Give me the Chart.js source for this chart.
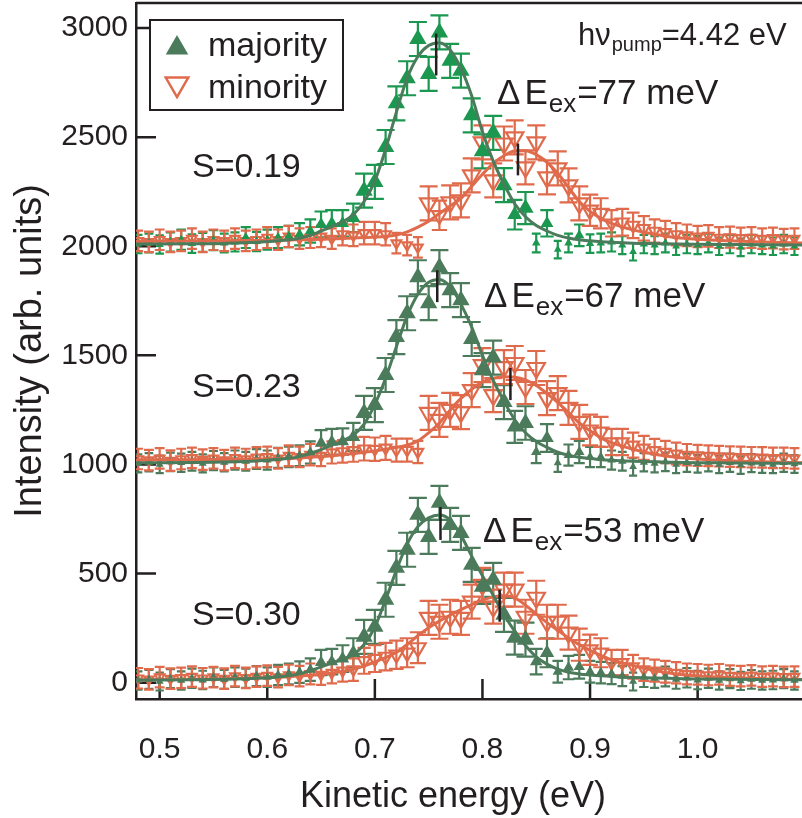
<!DOCTYPE html>
<html>
<head>
<meta charset="utf-8">
<script src="https://cdn.jsdelivr.net/npm/chart.js@4.4.0/dist/chart.umd.min.js"></script>
<style>
  html, body { margin: 0; padding: 0; background: #fff; }
  #wrap { width: 802px; height: 818px; }
</style>
</head>
<body>
<div id="wrap"><canvas id="chart"></canvas></div>
<script>
// kinetic energy of the data points (eV)
const energy = [
  0.48, 0.49, 0.50, 0.51, 0.52, 0.53, 0.54, 0.55, 0.56, 0.57,
  0.58, 0.59, 0.60, 0.61, 0.62, 0.63, 0.64, 0.65, 0.66, 0.67,
  0.68, 0.69, 0.70, 0.71, 0.72, 0.73, 0.74, 0.75, 0.76, 0.77,
  0.78, 0.79, 0.80, 0.81, 0.82, 0.83, 0.84, 0.85, 0.86, 0.87,
  0.88, 0.89, 0.90, 0.91, 0.92, 0.93, 0.94, 0.95, 0.96, 0.97,
  0.98, 0.99, 1.00, 1.01, 1.02, 1.03, 1.04, 1.05, 1.06, 1.07,
  1.08, 1.09
];

// S=0.19 (shown shifted by +2000)
const majTop = [
  10, 15, 8, 20, 30, 12, 18, 28, 15, 20,
  40, 22, 30, 40, 45, 55, 70, 100, 105, 105,
  130, 255, 295, 455, 655, 770, 950, 790, 980, 850,
  805, 600, 435, 520, 280, 145, 175, 15, 105, -15,
  15, 50, 12, 15, 20, 5, -25, 10, 5, 15,
  0, 10, 5, 15, 0, 10, -5, 10, 5, 0,
  10, 0
];
const minTop = [
  25, 20, 30, 20, 25, 35, 20, 30, 25, 35,
  25, 30, 40, 30, 45, 35, 40, 45, 35, 55,
  50, 60, 60, 55, 14, 5, -5, 197, 142, 201,
  210, 325, 476, 302, 471, 499, 362, 476, 316, 357,
  279, 197, 165, 151, 105, 110, 96, 82, 70, 64,
  55, 50, 45, 48, 40, 42, 38, 40, 35, 38,
  33, 35
];

// S=0.23 (shown shifted by +1000)
const majMid = [
  5, 10, 0, 12, 8, 15, 5, 18, 10, 20,
  15, 25, 20, 30, 35, 40, 55, 98, 103, 105,
  126, 236, 272, 410, 584, 693, 858, 739, 904, 799,
  753, 575, 432, 490, 286, 172, 190, 57, 121, 7,
  43, 57, 34, 34, 20, 15, -11, 10, 5, 12,
  0, 8, 3, 10, 0, 8, -3, 6, 2, 0,
  8, 2
];
const minMid = [
  25, 20, 28, 18, 25, 30, 22, 28, 20, 30,
  25, 32, 35, 28, 40, 35, 45, 40, 55, 60,
  65, 72, 70, 76, 66, 66, 57, 236, 204, 250,
  240, 341, 455, 318, 446, 465, 355, 442, 304, 327,
  259, 195, 158, 149, 103, 103, 89, 76, 65, 57,
  50, 45, 42, 40, 38, 36, 35, 33, 32, 30,
  30, 28
];

// S=0.30
const majLow = [
  10, 15, 5, 18, 10, 20, 12, 25, 15, 25,
  20, 30, 25, 35, 40, 48, 60, 92, 96, 110,
  137, 210, 256, 380, 526, 609, 769, 668, 824, 723,
  686, 540, 439, 471, 311, 206, 197, 96, 137, 50,
  69, 73, 50, 46, 41, 30, 5, 25, 20, 28,
  15, 22, 12, 20, 10, 18, 8, 15, 10, 12,
  18, 10
];
const minLow = [
  20, 15, 25, 18, 22, 28, 20, 25, 18, 30,
  22, 28, 32, 25, 35, 30, 40, 37, 45, 55,
  60, 100, 110, 119, 128, 137, 160, 297, 279, 302,
  297, 371, 448, 348, 426, 426, 302, 389, 279, 279,
  229, 174, 151, 137, 92, 92, 73, 60, 55, 50,
  45, 40, 38, 35, 38, 32, 30, 33, 28, 30,
  26, 28
];

// fitted curves
const fitEnergy = [
  0.47, 0.50, 0.53, 0.56, 0.59,
  0.62, 0.63, 0.64, 0.65, 0.66, 0.67, 0.68, 0.69, 0.70, 0.71,
  0.72, 0.73, 0.74, 0.75, 0.76, 0.77, 0.78, 0.79, 0.80, 0.81,
  0.82, 0.83, 0.84, 0.85, 0.86, 0.87, 0.88, 0.89, 0.90, 0.91,
  0.92, 0.94, 0.96, 0.98, 1.00, 1.03, 1.06, 1.10
];
const fitMajTop = [
  10, 10, 11, 13, 18,
  30, 37, 50, 70, 90, 112, 145, 205, 300, 445,
  615, 770, 870, 920, 933, 900, 815, 690, 525, 390,
  285, 195, 135, 95, 70, 50, 38, 30, 25, 21,
  18, 14, 12, 10, 9, 8, 7, 6
];
const fitMinTop = [
  22, 23, 24, 25, 27,
  29, 30, 31, 32, 34, 36, 38, 40, 42, 45,
  52, 66, 88, 115, 150, 185, 220, 275, 330, 380,
  415, 437, 438, 420, 385, 335, 270, 205, 160, 128,
  105, 75, 55, 40, 32, 25, 20, 15
];
const fitMajMid = [
  8, 8, 9, 11, 16,
  28, 36, 50, 68, 88, 108, 135, 185, 275, 395,
  540, 680, 780, 835, 848, 815, 735, 630, 500, 385,
  290, 205, 145, 105, 78, 56, 42, 33, 27, 22,
  19, 15, 12, 10, 8, 7, 6, 5
];
const fitMinMid = [
  20, 21, 22, 23, 25,
  28, 30, 33, 36, 40, 45, 50, 56, 62, 70,
  78, 88, 108, 145, 190, 250, 303, 345, 378, 395,
  402, 400, 388, 362, 325, 285, 238, 190, 155, 122,
  100, 70, 47, 33, 25, 17, 12, 7
];
const fitMajLow = [
  12, 12, 13, 15, 20,
  32, 40, 55, 72, 90, 108, 128, 175, 255, 380,
  515, 635, 715, 755, 768, 745, 675, 580, 490, 400,
  312, 235, 170, 118, 85, 62, 48, 40, 35, 31,
  28, 24, 21, 19, 17, 15, 14, 13
];
const fitMinLow = [
  12, 14, 16, 18, 21,
  27, 30, 34, 38, 44, 52, 62, 76, 95, 115,
  138, 175, 215, 252, 282, 310, 335, 358, 378, 393,
  398, 388, 355, 315, 275, 240, 205, 174, 148, 125,
  105, 78, 55, 40, 31, 23, 18, 14
];

const offsets = [2000, 1000, 0];
const spinLabels = ['S=0.19', 'S=0.23', 'S=0.30'];
const splitting = ['77', '67', '53'];

// peak position marks (energy, bottom, top)
const markEnergy = [0.757, 0.833, 0.758, 0.826, 0.761, 0.816];
const markBottom = [2783, 2325, 1744, 1295, 654, 279];
const markTop = [2975, 2471, 1890, 1442, 805, 426];

const xTicks = [0.5, 0.6, 0.7, 0.8, 0.9, 1.0];
const yTicks = [0, 500, 1000, 1500, 2000, 2500, 3000];

const FONT = '"Liberation Sans", Arial, Helvetica, sans-serif';
const INK = '#231f20';
const ORANGE = '#df6b4c';
const GREEN = '#4b7b5b';
const GREEN_TOP = '#1b9750';

const majSets = [majTop, majMid, majLow];
const minSets = [minTop, minMid, minLow];
const fitMaj = [fitMajTop, fitMajMid, fitMajLow];
const fitMin = [fitMinTop, fitMinMid, fitMinLow];

function markerRadius(v, minority) {
  let r = 4.5 + v * 0.028;
  return Math.max(minority ? 5.5 : 4.5, Math.min(10, r));
}

const datasets = [];

// peak marks on top
for (let i = 0; i < markEnergy.length; i++) {
  datasets.push({
    data: [{x: markEnergy[i], y: markBottom[i]}, {x: markEnergy[i], y: markTop[i]}],
    showLine: true, borderColor: INK, borderWidth: 2.5, pointRadius: 0, order: 0
  });
}

for (let s = 0; s < 3; s++) {
  const off = offsets[s];
  datasets.push({
    data: fitEnergy.map((e, i) => ({x: e, y: fitMaj[s][i] + off})),
    showLine: true, borderColor: GREEN, borderWidth: 3, pointRadius: 0,
    cubicInterpolationMode: 'monotone', order: 1
  });
  datasets.push({
    data: fitEnergy.map((e, i) => ({x: e, y: fitMin[s][i] + off})),
    showLine: true, borderColor: ORANGE, borderWidth: 3, pointRadius: 0,
    cubicInterpolationMode: 'monotone', order: 2
  });
  const gcol = s === 0 ? GREEN_TOP : GREEN;
  datasets.push({
    data: energy.map((e, i) => ({x: e, y: majSets[s][i] + off})),
    offset: off, errorBars: true, minority: false,
    pointStyle: 'triangle', rotation: 0,
    backgroundColor: gcol, borderColor: gcol, borderWidth: 0,
    pointRadius: c => markerRadius(c.raw.y - off, false),
    order: 3
  });
  datasets.push({
    data: energy.map((e, i) => ({x: e, y: minSets[s][i] + off})),
    offset: off, errorBars: true, minority: true,
    pointStyle: 'triangle', rotation: 180,
    backgroundColor: 'rgba(255,255,255,0)', borderColor: ORANGE, borderWidth: 2.2,
    pointRadius: c => markerRadius(c.raw.y - off, true),
    order: 4
  });
}

// inward ticks and the top frame line
const framePlugin = {
  id: 'frame',
  beforeDatasetsDraw(chart) {
    const {ctx, chartArea: a, scales} = chart;
    ctx.save();
    ctx.strokeStyle = INK;
    ctx.lineWidth = 2.5;
    ctx.beginPath();
    yTicks.forEach(v => {
      const y = scales.y.getPixelForValue(v);
      ctx.moveTo(a.left, y); ctx.lineTo(a.left + 20, y);
    });
    xTicks.forEach(v => {
      const x = scales.x.getPixelForValue(v);
      ctx.moveTo(x, a.bottom); ctx.lineTo(x, a.bottom - 20);
    });
    ctx.moveTo(a.left, a.top); ctx.lineTo(a.right, a.top);
    ctx.stroke();
    ctx.restore();
  }
};

const errorBarPlugin = {
  id: 'errorBars',
  beforeDatasetsDraw(chart) {
    const {ctx, chartArea: a, scales} = chart;
    ctx.save();
    ctx.beginPath();
    ctx.rect(a.left, a.top, a.right - a.left, a.bottom - a.top);
    ctx.clip();
    ctx.lineWidth = 2.2;
    chart.data.datasets.forEach(ds => {
      if (!ds.errorBars) return;
      ctx.strokeStyle = ds.borderColor;
      ds.data.forEach(p => {
        const r = markerRadius(p.y - ds.offset, ds.minority);
        const e = 1.5 * r + 2, w = 0.9 * r;
        const px = scales.x.getPixelForValue(p.x);
        const py = scales.y.getPixelForValue(p.y);
        ctx.beginPath();
        ctx.moveTo(px, py - e); ctx.lineTo(px, py + e);
        ctx.moveTo(px - w, py - e); ctx.lineTo(px + w, py - e);
        ctx.moveTo(px - w, py + e); ctx.lineTo(px + w, py + e);
        ctx.stroke();
      });
    });
    ctx.restore();
  }
};

function tri(ctx, x, y, r, down) {
  const hw = r * Math.sqrt(3) / 2;
  ctx.beginPath();
  if (!down) {
    ctx.moveTo(x, y - r); ctx.lineTo(x + hw, y + r / 2); ctx.lineTo(x - hw, y + r / 2);
  } else {
    ctx.moveTo(x, y + r); ctx.lineTo(x + hw, y - r / 2); ctx.lineTo(x - hw, y - r / 2);
  }
  ctx.closePath();
}

// legend, labels and annotations
const textPlugin = {
  id: 'texts',
  afterDraw(chart) {
    const ctx = chart.ctx;
    ctx.save();
    ctx.textBaseline = 'alphabetic';
    ctx.textAlign = 'left';

    // legend
    ctx.strokeStyle = INK;
    ctx.lineWidth = 2;
    ctx.fillStyle = '#fff';
    ctx.fillRect(150, 20, 193, 90);
    ctx.strokeRect(150, 20, 193, 90);
    tri(ctx, 177, 48, 13, false);
    ctx.fillStyle = GREEN; ctx.fill();
    tri(ctx, 177, 84, 13, true);
    ctx.strokeStyle = ORANGE; ctx.lineWidth = 2.5; ctx.stroke();
    ctx.fillStyle = INK;
    ctx.font = '34px ' + FONT;
    ctx.fillText('majority', 208, 56);
    ctx.fillText('minority', 208, 98);

    // spin polarisation labels
    const sBase = [177, 397, 625];
    spinLabels.forEach((t, i) => ctx.fillText(t, 192, sBase[i]));

    // exchange splitting
    const dx = [497, 484, 483];
    const dBase = [104, 307, 542];
    splitting.forEach((v, i) => {
      let x = dx[i];
      const y = dBase[i];
      ctx.font = '35px ' + FONT;
      ctx.fillText('\u0394', x, y);
      x += ctx.measureText('\u0394').width + 4;
      ctx.fillText('E', x, y);
      x += ctx.measureText('E').width + 1;
      ctx.font = '26px ' + FONT;
      ctx.fillText('ex', x, y + 8);
      x += ctx.measureText('ex').width + 1;
      ctx.font = '35px ' + FONT;
      ctx.fillText('=' + v + ' meV', x, y);
    });

    // photon energy
    let x = 578;
    ctx.font = '31px ' + FONT;
    ctx.fillText('h\u03bd', x, 45);
    x += ctx.measureText('h\u03bd').width + 1;
    ctx.font = '20px ' + FONT;
    ctx.fillText('pump', x, 51);
    x += ctx.measureText('pump').width;
    ctx.font = '31px ' + FONT;
    ctx.fillText('=4.42 eV', x, 45);

    // x axis title
    ctx.font = '36px ' + FONT;
    ctx.textAlign = 'center';
    ctx.fillText('Kinetic energy (eV)', 453, 807);
    ctx.restore();
  }
};

new Chart(document.getElementById('chart'), {
  type: 'scatter',
  data: {datasets},
  options: {
    responsive: true,
    maintainAspectRatio: false,
    animation: false,
    devicePixelRatio: 1,
    layout: {autoPadding: false, padding: {top: 3, right: 0, left: 0, bottom: 0}},
    plugins: {legend: {display: false}, tooltip: {enabled: false}},
    scales: {
      x: {
        type: 'linear',
        min: 0.478, max: 1.097,
        afterBuildTicks: s => { s.ticks = xTicks.map(v => ({value: v})); },
        afterFit: s => {
          s.height = 119;
          s.paddingLeft = 0; s.paddingRight = 0;
        },
        grid: {display: true, drawOnChartArea: false, drawTicks: false},
        border: {display: true, color: INK, width: 2.5},
        ticks: {
          font: {family: FONT, size: 30}, color: INK, padding: 33,
          maxRotation: 0, autoSkip: false,
          callback: v => v.toFixed(1)
        },
        title: {display: false}
      },
      y: {
        type: 'linear',
        min: -75, max: 3115,
        afterBuildTicks: s => { s.ticks = yTicks.map(v => ({value: v})); },
        afterFit: s => {
          s.width = 136;
          s.paddingTop = 0; s.paddingBottom = 0;
        },
        grid: {display: true, drawOnChartArea: false, drawTicks: false},
        border: {display: true, color: INK, width: 2.5},
        ticks: {font: {family: FONT, size: 30}, color: INK, padding: 8, callback: v => String(v)},
        title: {
          display: true, text: 'Intensity (arb. units)', color: INK,
          font: {family: FONT, size: 38}, padding: {top: 8, bottom: 0}
        }
      }
    }
  },
  plugins: [framePlugin, errorBarPlugin, textPlugin]
});
</script>
</body>
</html>
